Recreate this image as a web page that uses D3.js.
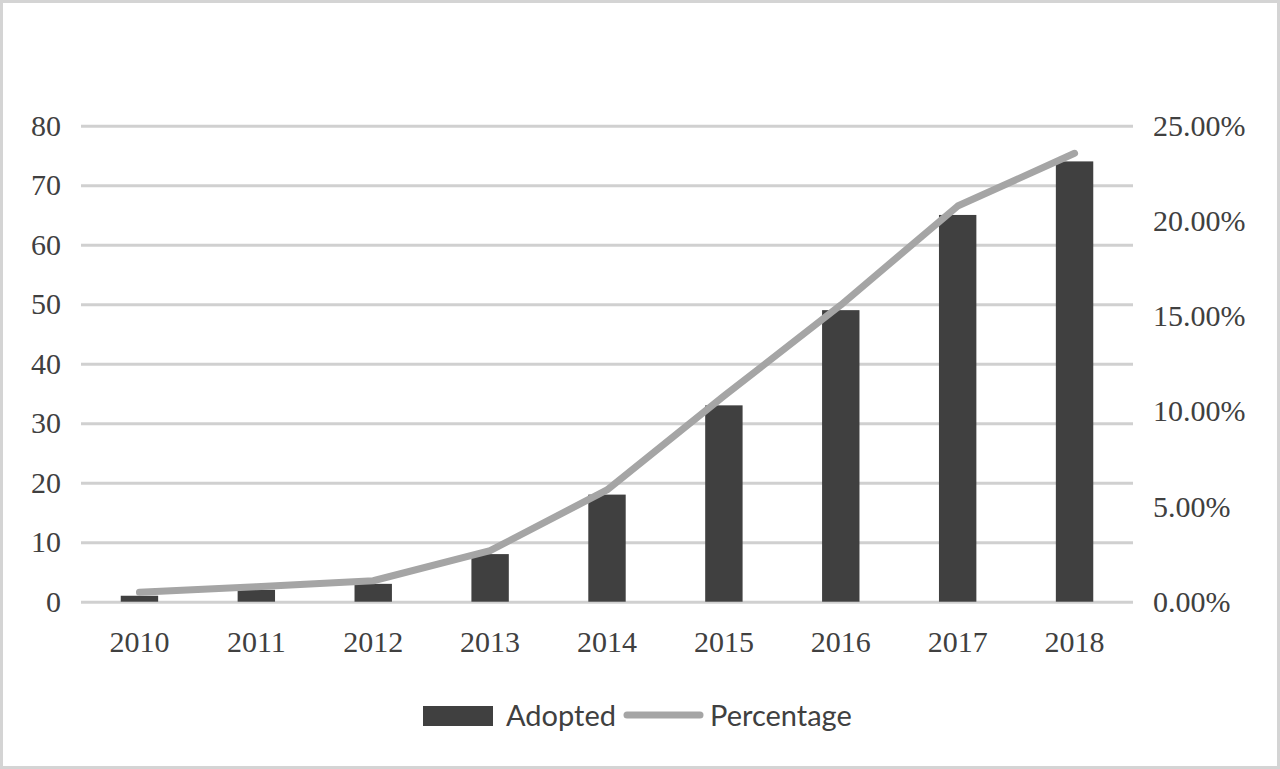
<!DOCTYPE html>
<html>
<head>
<meta charset="utf-8">
<script src="https://cdn.jsdelivr.net/npm/d3@7"></script>
<style>
  body { margin: 0; background: #fff; }
  svg { display: block; }
</style>
</head>
<body>
<div id="chart"></div>
<script>
// data
var years = ['2010', '2011', '2012', '2013', '2014', '2015', '2016', '2017', '2018'];
var adopted = [1, 2, 3, 8, 18, 33, 49, 65, 74];
var percentage = [0.0049, 0.0079, 0.011, 0.0268, 0.0587, 0.108, 0.1558, 0.2078, 0.2355];
var leftTicks = [0, 10, 20, 30, 40, 50, 60, 70, 80];
var rightTicks = [0, 0.05, 0.10, 0.15, 0.20, 0.25];

var svgWidth = 1280;
var svgHeight = 769;

// plot area
var plotLeft = 81, plotRight = 1133, plotTop = 125.7, plotBottom = 601.7;

var svg = d3.select('#chart')
  .append('svg')
  .attr('width', svgWidth)
  .attr('height', svgHeight);

// outer frame
svg.append('rect')
  .attr('x', 1.5)
  .attr('y', 1.5)
  .attr('width', svgWidth - 3)
  .attr('height', svgHeight - 3)
  .attr('fill', '#fff')
  .attr('stroke', '#d4d4d4')
  .attr('stroke-width', 3);

var x = d3.scaleBand()
  .domain(years)
  .range([plotLeft, plotRight])
  .paddingInner(0.68)
  .paddingOuter(0.34);

var y = d3.scaleLinear().domain([0, 80]).range([plotBottom, plotTop]);
var y2 = d3.scaleLinear().domain([0, 0.25]).range([plotBottom, plotTop]);

// gridlines + left labels
var leftAxis = d3.axisLeft(y)
  .tickValues(leftTicks)
  .tickSize(-(plotRight - plotLeft))
  .tickPadding(20);

var gy = svg.append('g')
  .attr('transform', `translate(${plotLeft}, 0)`)
  .call(leftAxis);
gy.select('.domain').remove();
gy.selectAll('line')
  .attr('stroke', '#d0d0d0')
  .attr('stroke-width', 3);
gy.selectAll('text')
  .attr('font-family', '"Liberation Serif", "Times New Roman", serif')
  .attr('font-size', 30)
  .attr('fill', '#404040');

// right labels
var rightAxis = d3.axisRight(y2)
  .tickValues(rightTicks)
  .tickSize(0)
  .tickPadding(20)
  .tickFormat(d3.format('.2%'));

var gy2 = svg.append('g')
  .attr('transform', `translate(${plotRight}, 0)`)
  .call(rightAxis);
gy2.select('.domain').remove();
gy2.selectAll('text')
  .attr('font-family', '"Liberation Serif", "Times New Roman", serif')
  .attr('font-size', 30)
  .attr('fill', '#404040');

// category labels
var bottomAxis = d3.axisBottom(x).tickSize(0).tickPadding(29);
var gx = svg.append('g')
  .attr('transform', `translate(0, ${plotBottom})`)
  .call(bottomAxis);
gx.select('.domain').remove();
gx.selectAll('text')
  .attr('font-family', '"Liberation Serif", "Times New Roman", serif')
  .attr('font-size', 30)
  .attr('fill', '#404040');

// bars
svg.append('g')
  .selectAll('rect')
  .data(adopted)
  .enter()
  .append('rect')
  .attr('x', (d, i) => x(years[i]))
  .attr('y', d => y(d))
  .attr('width', x.bandwidth())
  .attr('height', d => y(0) - y(d))
  .attr('fill', '#404040');

// percentage line
var line = d3.line()
  .x((d, i) => x(years[i]) + x.bandwidth() / 2)
  .y(d => y2(d));

svg.append('path')
  .datum(percentage)
  .attr('d', line)
  .attr('fill', 'none')
  .attr('stroke', '#a5a5a5')
  .attr('stroke-width', 7)
  .attr('stroke-linecap', 'round')
  .attr('stroke-linejoin', 'round');

// legend
var legend = svg.append('g');
legend.append('rect')
  .attr('x', 423)
  .attr('y', 706)
  .attr('width', 70)
  .attr('height', 20)
  .attr('fill', '#404040');
legend.append('text')
  .attr('x', 506)
  .attr('y', 726)
  .attr('font-family', 'Lato, "Noto Sans", sans-serif')
  .attr('font-size', 29)
  .attr('fill', '#404040')
  .text('Adopted');
legend.append('line')
  .attr('x1', 627)
  .attr('x2', 700)
  .attr('y1', 715)
  .attr('y2', 715)
  .attr('stroke', '#a5a5a5')
  .attr('stroke-width', 7)
  .attr('stroke-linecap', 'round');
legend.append('text')
  .attr('x', 710)
  .attr('y', 726)
  .attr('font-family', 'Lato, "Noto Sans", sans-serif')
  .attr('font-size', 29)
  .attr('fill', '#404040')
  .text('Percentage');
</script>
</body>
</html>
